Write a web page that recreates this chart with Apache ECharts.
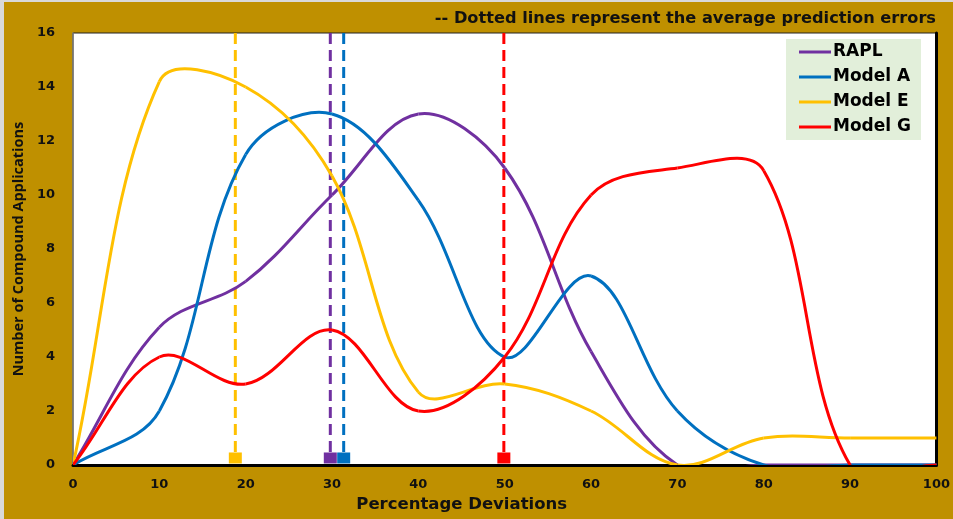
<!DOCTYPE html>
<html>
<head>
<meta charset="utf-8">
<script src="https://cdn.jsdelivr.net/npm/echarts@6/dist/echarts.min.js"></script>
<style>
html,body{margin:0;padding:0;background:#BF9000;}
#chart{width:953px;height:519px;}
</style>
</head>
<body>
<div id="chart"></div>
<script>
// ---- data ----
var xValues = [0, 10, 20, 30, 40, 50, 60, 70, 80, 90, 100];
var raplValues   = [0, 5.1, 6.8, 10.0, 13.0, 11.0, 4.2, 0, 0, 0, 0];
var modelAValues = [0, 2.0, 11.5, 13.0, 9.8, 4.0, 7.0, 2.0, 0, 0, 0];
var modelEValues = [0, 14.2, 14.0, 10.7, 2.7, 3.0, 2.0, 0, 1.0, 1.0, 1.0];
var modelGValues = [0, 4.0, 3.0, 5.0, 2.0, 4.0, 10.0, 11.0, 10.9, 0, 0];
var seriesNames = ['RAPL', 'Model A', 'Model E', 'Model G'];
// average prediction errors (dotted lines)
var avgErrorNames = ['RAPL avg', 'Model A avg', 'Model E avg', 'Model G avg'];
var avgErrors = [29.8, 31.35, 18.8, 49.9];
var avgLineTop = 16;
var avgLineBottom = 0.26;
var xTicks = {min: 0, max: 100, interval: 10};
var yTicks = {min: 0, max: 16, interval: 2};
var titleText = '-- Dotted lines represent the average prediction errors';
var xAxisName = 'Percentage Deviations';
var yAxisName = 'Number of Compound Applications';

var colors = ['#7030A0', '#0070C0', '#FFC000', '#FF0000'];
var valueSets = [raplValues, modelAValues, modelEValues, modelGValues];
var SMOOTH = 0.36;

function pairs(vals) { return xValues.map(function (x, i) { return [x, vals[i]]; }); }

// smoothed curve (spreadsheet-like bezier smoothing) drawn through axis coords
function makeRenderer(vals, color) {
  return function (params, api) {
    var i = params.dataIndex;
    var n = xValues.length;
    if (i >= n - 1) return null;
    var P = xValues.map(function (x, k) { return api.coord([x, vals[k]]); });
    var p0 = P[i - 1] || P[i], p1 = P[i], p2 = P[i + 1], p3 = P[i + 2] || P[i + 1];
    function dist(a, b) { return Math.sqrt((a[0] - b[0]) * (a[0] - b[0]) + (a[1] - b[1]) * (a[1] - b[1])); }
    var d01 = dist(p0, p1), d12 = dist(p1, p2), d23 = dist(p2, p3);
    var r1 = (d01 + d12) > 0 ? d12 / (d01 + d12) : 0;
    var r2 = (d12 + d23) > 0 ? d12 / (d12 + d23) : 0;
    var c1 = [p1[0] + (p2[0] - p0[0]) * SMOOTH * r1, p1[1] + (p2[1] - p0[1]) * SMOOTH * r1];
    var c2 = [p2[0] - (p3[0] - p1[0]) * SMOOTH * r2, p2[1] - (p3[1] - p1[1]) * SMOOTH * r2];
    return {
      type: 'bezierCurve',
      shape: {x1: p1[0], y1: p1[1], x2: p2[0], y2: p2[1], cpx1: c1[0], cpy1: c1[1], cpx2: c2[0], cpy2: c2[1]},
      style: {stroke: color, lineWidth: 3, fill: 'none'},
      silent: true
    };
  };
}

var series = [];
avgErrors.forEach(function (v, i) {
  series.push({
    name: avgErrorNames[i],
    type: 'line',
    data: [
      {value: [v, avgLineTop], symbolSize: 0},
      {value: [v, avgLineBottom], symbol: 'rect', symbolSize: [13, 11]}
    ],
    showSymbol: true,
    symbol: 'rect',
    itemStyle: {color: colors[i]},
    lineStyle: {color: colors[i], width: 3, type: [11, 6]},
    silent: true,
    z: 2
  });
});
valueSets.forEach(function (vals, i) {
  series.push({
    name: seriesNames[i],
    type: 'custom',
    data: pairs(vals),
    encode: {x: 0, y: 1},
    clip: true,
    itemStyle: {color: colors[i]},
    renderItem: makeRenderer(vals, colors[i]),
    z: 3
  });
});

var chart = echarts.init(document.getElementById('chart'), null, {renderer: 'canvas'});
chart.setOption({
  animation: false,
  backgroundColor: '#BF9000',
  title: {
    text: titleText,
    right: 12,
    top: 6,
    textStyle: {fontFamily: 'DejaVu Sans', fontWeight: 'bold', fontSize: 16.2, color: '#111'}
  },
  graphic: [
    {type: 'rect', left: 0, top: 0, shape: {width: 4, height: 519}, style: {fill: '#D9D9D9'}, silent: true},
    {type: 'rect', left: 0, top: 0, shape: {width: 953, height: 2}, style: {fill: '#D9D9D9'}, silent: true}
  ],
  legend: {
    data: seriesNames,
    orient: 'vertical',
    left: 786,
    top: 39,
    backgroundColor: '#E2EFDA',
    padding: [3, 10, 3, 13],
    itemWidth: 32,
    itemHeight: 3,
    itemGap: 5,
    icon: 'rect',
    textStyle: {fontFamily: 'DejaVu Sans', fontWeight: 'bold', fontSize: 17, color: '#000', lineHeight: 20, padding: [0, 0, 0, -3]}
  },
  grid: {
    left: 73, right: 14, top: 33, bottom: 54,
    show: true,
    backgroundColor: '#FFFFFF',
    borderColor: '#222',
    borderWidth: 1
  },
  xAxis: {
    type: 'value',
    min: xTicks.min, max: xTicks.max, interval: xTicks.interval,
    name: xAxisName,
    nameLocation: 'middle',
    nameGap: 28,
    nameTextStyle: {fontFamily: 'DejaVu Sans', fontWeight: 'bold', fontSize: 16.5, color: '#111', padding: [0, 86, 0, 0]},
    axisLine: {show: true, lineStyle: {color: '#000', width: 3}},
    axisTick: {show: false},
    splitLine: {show: false},
    axisLabel: {fontFamily: 'DejaVu Sans', fontWeight: 'bold', fontSize: 13, color: '#111', margin: 13}
  },
  yAxis: [{
    type: 'value',
    min: yTicks.min, max: yTicks.max, interval: yTicks.interval,
    name: yAxisName,
    nameLocation: 'middle',
    nameGap: 47,
    nameRotate: 90,
    nameTextStyle: {fontFamily: 'Open Sans', fontWeight: 'bold', fontSize: 14.5, color: '#111'},
    axisLine: {show: true, lineStyle: {color: '#808080', width: 1.5}},
    axisTick: {show: false},
    splitLine: {show: false},
    axisLabel: {fontFamily: 'DejaVu Sans', fontWeight: 'bold', fontSize: 13, color: '#111', margin: 18}
  }, {
    type: 'value',
    position: 'right',
    min: yTicks.min, max: yTicks.max, interval: yTicks.interval,
    axisLine: {show: true, lineStyle: {color: '#000', width: 3}},
    axisTick: {show: false},
    axisLabel: {show: false},
    splitLine: {show: false}
  }],
  series: series
});
</script>
</body>
</html>
